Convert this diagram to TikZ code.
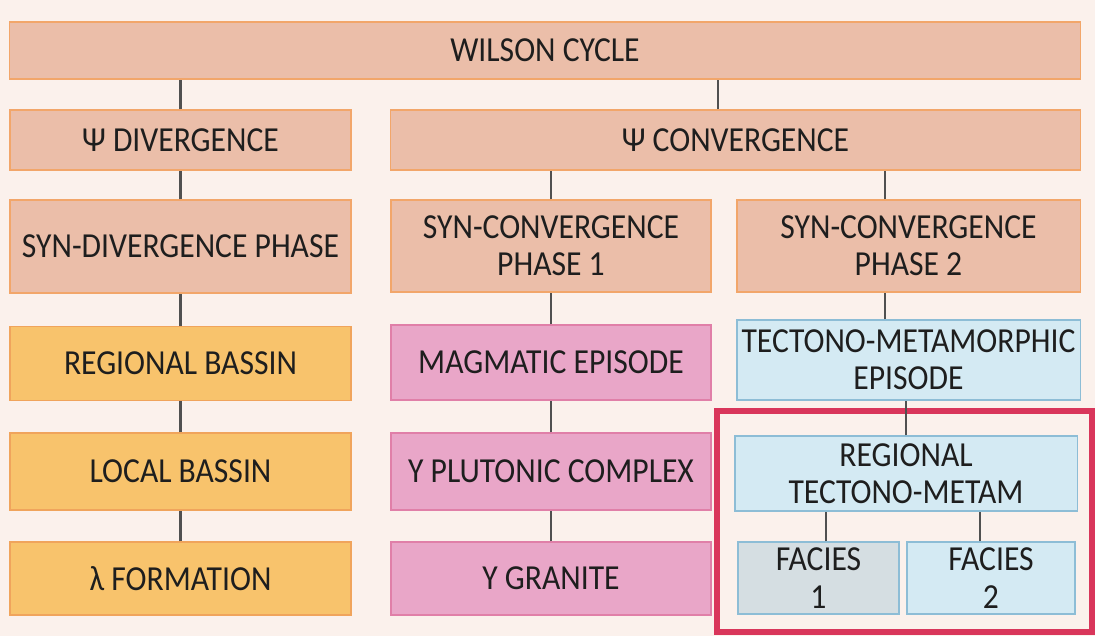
\documentclass[tikz,border=0pt]{standalone}
\usepackage{fontspec}
\setmainfont{Carlito}[FakeStretch=0.9]
\usetikzlibrary{positioning,calc}

\definecolor{bgpeach}{HTML}{FBF1EC}
\definecolor{peachfill}{HTML}{EBBEA9}
\definecolor{peachline}{HTML}{F2A66A}
\definecolor{orangefill}{HTML}{F8C36C}
\definecolor{orangeline}{HTML}{F0A45C}
\definecolor{pinkfill}{HTML}{E9A6C8}
\definecolor{pinkline}{HTML}{E07FA8}
\definecolor{bluefill}{HTML}{D4EAF3}
\definecolor{blueline}{HTML}{8DBDD6}
\definecolor{grayfill}{HTML}{D5DEE2}
\definecolor{framered}{HTML}{D9365B}
\definecolor{linkgray}{HTML}{505050}
\definecolor{txt}{HTML}{1E1E1E}

\begin{document}
\begin{tikzpicture}[x=0.025cm,y=-0.025cm,
  box/.style={rectangle,draw,line width=0.8pt,inner sep=0pt,align=center,
    text=txt,font=\fontsize{25}{26.5}\selectfont},
  peach/.style={box,fill=peachfill,draw=peachline},
  orange/.style={box,fill=orangefill,draw=orangeline},
  pink/.style={box,fill=pinkfill,draw=pinkline},
  blue/.style={box,fill=bluefill,draw=blueline},
  link/.style={draw=linkgray,line width=1.6pt}]

  \path[use as bounding box,fill=bgpeach] (0,0) rectangle (1095,636);

  % top levels
  \node[peach,minimum width=26.75cm,minimum height=1.425cm] (wc) at (545,50.5) {WILSON CYCLE};
  \node[peach,minimum width=8.525cm,minimum height=1.5cm] (psiD) at (180.5,140) {Ψ DIVERGENCE};
  \node[peach,minimum width=17.225cm,minimum height=1.5cm] (psiC) at (735.5,140) {Ψ CONVERGENCE};

  % phases
  \node[peach,minimum width=8.525cm,minimum height=2.325cm] (synD) at (180.5,246.5) {SYN-DIVERGENCE PHASE};
  \node[peach,minimum width=8cm,minimum height=2.3cm] (synC1) at (551,246) {SYN-CONVERGENCE\\PHASE 1};
  \node[peach,minimum width=8.575cm,minimum height=2.3cm] (synC2) at (908.5,246) {SYN-CONVERGENCE\\PHASE 2};

  % divergence column
  \node[orange,minimum width=8.525cm,minimum height=1.85cm] (regB) at (180.5,363.5) {REGIONAL BASSIN};
  \node[orange,minimum width=8.525cm,minimum height=1.925cm] (locB) at (180.5,471.5) {LOCAL BASSIN};
  \node[orange,minimum width=8.525cm,minimum height=1.825cm] (form) at (180.5,578.5) {λ FORMATION};

  % magmatic column
  \node[pink,minimum width=8cm,minimum height=1.875cm] (magE) at (551,362.5) {MAGMATIC EPISODE};
  \node[pink,minimum width=8cm,minimum height=1.925cm] (pluC) at (551,471.5) {Y PLUTONIC COMPLEX};
  \node[pink,minimum width=8cm,minimum height=1.825cm] (gran) at (551,578.5) {Y GRANITE};

  % metamorphic column
  \node[blue,minimum width=8.575cm,minimum height=2cm] (tecE) at (908.5,360) {TECTONO-METAMORPHIC\\EPISODE};
  \node[blue,minimum width=8.55cm,minimum height=1.875cm] (regT) at (906,473.5) {REGIONAL\\TECTONO-METAM};
  \node[blue,fill=grayfill,minimum width=4.025cm,minimum height=1.8cm] (fac1) at (818.5,578) {FACIES\\1};
  \node[blue,minimum width=4.2cm,minimum height=1.8cm] (fac2) at (991,578) {FACIES\\2};

  \draw[framered,line width=4.5pt] (717,411) rectangle (1092,632);

  % links
  \draw[link] (psiD.north) -- (psiD.north |- wc.south);
  \draw[link] ([xshift=-0.44cm]psiC.north) -- ([xshift=-0.44cm]psiC.north |- wc.south);
  \draw[link] (synD.north) -- (psiD.south);
  \draw[link] (synC1.north) -- (synC1.north |- psiC.south);
  \draw[link] ([xshift=-0.59cm]synC2.north) -- ([xshift=-0.59cm]synC2.north |- psiC.south);
  \draw[link] (regB.north) -- (synD.south);
  \draw[link] (locB.north) -- (regB.south);
  \draw[link] (form.north) -- (locB.south);
  \draw[link] (magE.north) -- (synC1.south);
  \draw[link] (pluC.north) -- (magE.south);
  \draw[link] (gran.north) -- (pluC.south);
  \draw[link] ([xshift=-0.59cm]tecE.north) -- ([xshift=-0.59cm]tecE.north |- synC2.south);
  \draw[link] (regT.north) -- (regT.north |- tecE.south);
  \draw[link] ([xshift=0.19cm]fac1.north) -- ([xshift=0.19cm]fac1.north |- regT.south);
  \draw[link] ([xshift=-0.28cm]fac2.north) -- ([xshift=-0.28cm]fac2.north |- regT.south);
\end{tikzpicture}
\end{document}
